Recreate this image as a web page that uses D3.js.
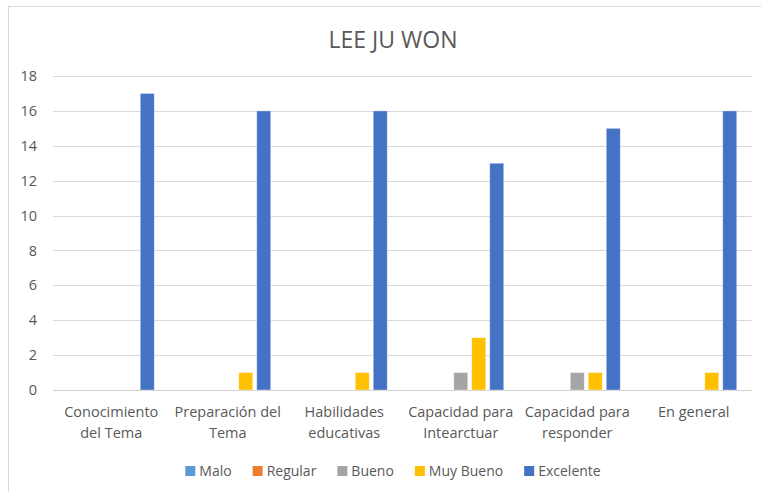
<!DOCTYPE html>
<html>
<head>
<meta charset="utf-8">
<script src="https://cdn.jsdelivr.net/npm/d3@7"></script>
<style>
html,body{margin:0;padding:0;background:#fff;}
svg{display:block;font-family:"Open Sans",sans-serif;}
</style>
</head>
<body>
<svg id="chart" width="761" height="492"></svg>
<script>
const title = "LEE JU WON";
const categories = ["Conocimiento del Tema","Preparación del Tema","Habilidades educativas","Capacidad para Intearctuar","Capacidad para responder","En general"];
const categoryLines = [["Conocimiento","del Tema"],["Preparación del","Tema"],["Habilidades","educativas"],["Capacidad para","Intearctuar"],["Capacidad para","responder"],["En general"]];
const seriesNames = ["Malo","Regular","Bueno","Muy Bueno","Excelente"];
const seriesColors = ["#5B9BD5","#ED7D31","#A5A5A5","#FFC000","#4472C4"];
const malo      = [0,0,0,0,0,0];
const regular   = [0,0,0,0,0,0];
const bueno     = [0,0,0,1,1,0];
const muyBueno  = [0,1,1,3,1,1];
const excelente = [17,16,16,13,15,16];
const yTicks = [0,2,4,6,8,10,12,14,16,18];

(function(){
const seriesValues = [malo, regular, bueno, muyBueno, excelente];
const svg = d3.select("#chart");
const W = 761, H = 492;
const textColor = "#595959";

// chart border
svg.append("rect").attr("x",8.5).attr("y",6.5).attr("width",W).attr("height",H)
  .attr("fill","none").attr("stroke","#d9d9d9").attr("stroke-width",1);

const pLeft = 53, pRight = 752, pTop = 76, pBottom = 390;
const x0 = d3.scaleBand().domain(categories).range([pLeft,pRight]).padding(0);
const groupW = 90;
const x1 = d3.scaleBand().domain(seriesNames).range([0,groupW]).paddingInner(4/18).paddingOuter(1/9);
const y = d3.scaleLinear().domain([0,18]).range([pBottom,pTop]);

// gridlines
svg.append("g").selectAll("line").data(yTicks).join("line")
  .attr("x1",pLeft).attr("x2",pRight)
  .attr("y1",d=>Math.round(y(d))+0.5).attr("y2",d=>Math.round(y(d))+0.5)
  .attr("stroke",d=>d===0?"#d0d0d0":"#d9d9d9").attr("stroke-width",1);

// y labels
const yAxis = d3.axisLeft(y).tickValues(yTicks).tickSize(0).tickPadding(0);
const yg = svg.append("g").attr("transform",`translate(37,0)`).call(yAxis);
yg.select(".domain").remove();
yg.selectAll("text").attr("fill",textColor).attr("font-size","14.5px").attr("font-family","'Open Sans',sans-serif");

// bars
const groups = svg.append("g").selectAll("g").data(categories).join("g")
  .attr("transform",d=>`translate(${x0(d)+(x0.bandwidth()-groupW)/2},0)`);
groups.selectAll("rect").data((c,i)=>seriesNames.map((s,j)=>({s,j,v:seriesValues[j][i]})).filter(d=>d.v>0))
  .join("rect")
  .attr("x",d=>x1(d.s)).attr("width",x1.bandwidth())
  .attr("y",d=>y(d.v)).attr("height",d=>y(0)-y(d.v))
  .attr("fill",d=>seriesColors[d.j])
  .attr("stroke","#ffffff").attr("stroke-opacity",0.5).attr("stroke-width",0.75);

// category labels
const xl = svg.append("g");
categories.forEach((c,i)=>{
  const cx = x0(c)+x0.bandwidth()/2;
  const t = xl.append("text").attr("text-anchor","middle").attr("fill",textColor)
    .attr("font-size","14.5px").attr("x",cx).attr("y",417);
  categoryLines[i].forEach((ln,k)=>{
    t.append("tspan").attr("x",cx).attr("dy",k===0?0:21).text(ln);
  });
});

// title
svg.append("text").attr("x",393).attr("y",48).attr("text-anchor","middle")
  .attr("fill",textColor).attr("font-size","23px").text(title);

// legend
const lg = svg.append("g");
let lx = 0;
seriesNames.forEach((s,j)=>{
  const g = lg.append("g").attr("transform",`translate(${lx},0)`);
  g.append("rect").attr("x",0).attr("y",-5).attr("width",10).attr("height",10).attr("fill",seriesColors[j]);
  const t = g.append("text").attr("x",14).attr("y",5).attr("fill",textColor).attr("font-size","14px").text(s);
  const w = t.node().getComputedTextLength();
  lx += 14 + w + 21;
});
const totalW = lx - 21;
lg.attr("transform",`translate(${393 - totalW/2},471)`);
})();
</script>
</body>
</html>
